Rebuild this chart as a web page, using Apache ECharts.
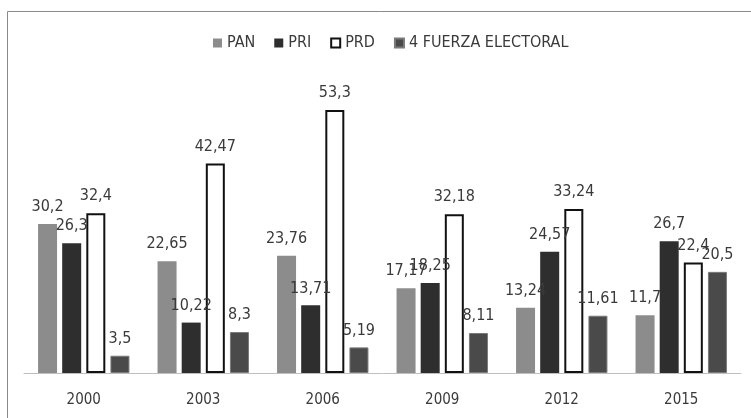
<!DOCTYPE html>
<html>
<head>
<meta charset="utf-8">
<script src="https://cdn.jsdelivr.net/npm/echarts@6/dist/echarts.min.js"></script>
<style>
  html, body { margin: 0; padding: 0; background: #fff; }
  #chart { width: 751px; height: 418px; }
</style>
</head>
<body>
<div id="chart"></div>
<script>
const years = ['2000', '2003', '2006', '2009', '2012', '2015'];
const pan = [30.2, 22.65, 23.76, 17.17, 13.24, 11.7];
const pri = [26.3, 10.22, 13.71, 18.25, 24.57, 26.7];
const prd = [32.4, 42.47, 53.3, 32.18, 33.24, 22.4];
const cuarta = [3.5, 8.3, 5.19, 8.11, 11.61, 20.5];

const font = "'Liberation Sans Narrow', 'DejaVu Sans Condensed', sans-serif";
const fmt = p => String(p.value).replace('.', ',');

const label = {
    show: true,
    position: 'top',
    distance: 9,
    color: '#3a3a3a',
    fontSize: 16,
    fontFamily: font,
    formatter: fmt
};

const chart = echarts.init(document.getElementById('chart'));
chart.setOption({
    animation: false,
    graphic: [{
        type: 'rect',
        shape: { x: 7.5, y: 11.5, width: 800, height: 500 },
        style: { fill: 'none', stroke: '#8a8a8a', lineWidth: 1 },
        silent: true
    }],
    legend: {
        top: 30,
        left: 208,
        icon: 'rect',
        itemWidth: 9,
        itemHeight: 9,
        itemGap: 19,
        textStyle: { color: '#3a3a3a', fontSize: 16, fontFamily: font },
        data: ['PAN', 'PRI', 'PRD', '4 FUERZA ELECTORAL']
    },
    grid: { left: 24, right: 10, top: 77, bottom: 45 },
    xAxis: {
        type: 'category',
        data: years,
        axisLine: { lineStyle: { color: '#bfbfbf', width: 1 } },
        axisTick: { show: false },
        axisLabel: { color: '#3a3a3a', fontSize: 15, fontFamily: font, margin: 20 }
    },
    yAxis: {
        type: 'value',
        min: 0,
        max: 60,
        show: false
    },
    series: [
        {
            name: 'PAN', type: 'bar', data: pan,
            barWidth: 19, barGap: '27%',
            itemStyle: { color: '#8c8c8c' },
            label: label
        },
        {
            name: 'PRI', type: 'bar', data: pri,
            barWidth: 19,
            itemStyle: { color: '#2e2e2e' },
            label: label
        },
        {
            name: 'PRD', type: 'bar', data: prd,
            barWidth: 19,
            itemStyle: { color: '#ffffff', borderColor: '#111', borderWidth: 2 },
            label: label
        },
        {
            name: '4 FUERZA ELECTORAL', type: 'bar', data: cuarta,
            barWidth: 19,
            itemStyle: { color: '#4a4a4a', borderColor: '#7a7a7a', borderWidth: 1 },
            label: label
        }
    ]
});
</script>
</body>
</html>
